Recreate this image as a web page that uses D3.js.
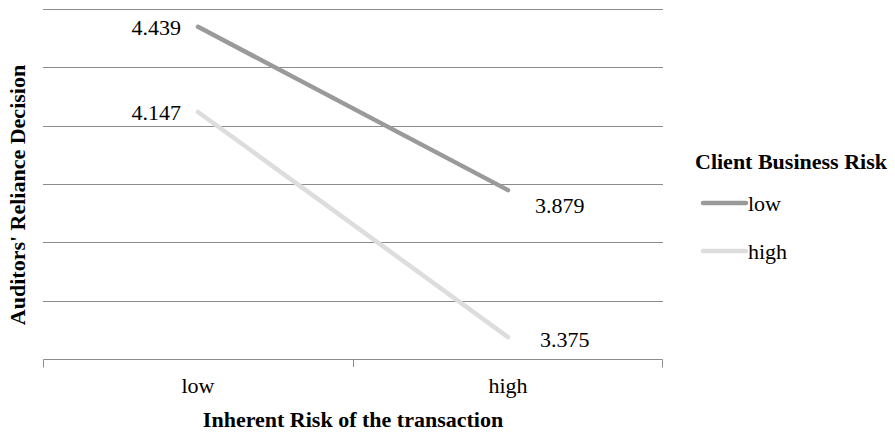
<!DOCTYPE html>
<html>
<head>
<meta charset="utf-8">
<script src="https://cdn.jsdelivr.net/npm/d3@7"></script>
<style>
  html, body { margin: 0; padding: 0; background: #fff; }
  svg { display: block; font-family: "Liberation Serif", "Times New Roman", serif; }
</style>
</head>
<body>
<svg id="chart" width="895" height="433"></svg>
<script>
// Inherent risk of the transaction (x categories)
const categories = ["low", "high"];
// Client business risk series
const seriesNames = ["low", "high"];
const lowClientRisk = [4.439, 3.879];
const highClientRisk = [4.147, 3.375];
// Value axis (ticks are gridlines only, no labels)
const yTicks = [3.3, 3.5, 3.7, 3.9, 4.1, 4.3, 4.5];

const series = [
  { name: seriesNames[0], values: lowClientRisk, color: "#9a9a9a" },
  { name: seriesNames[1], values: highClientRisk, color: "#dddddd" }
];

const svg = d3.select("#chart");
const plot = { left: 43, right: 663, top: 9, bottom: 359 };
const FONT = "Liberation Serif, Times New Roman, serif";

const x = d3.scaleBand().domain(categories).range([plot.left, plot.right]);
const y = d3.scaleLinear().domain([3.3, 4.5]).range([plot.bottom, plot.top]);
const cx = c => x(c) + x.bandwidth() / 2;

// Horizontal gridlines
svg.append("g")
  .selectAll("line")
  .data(yTicks.slice(1))
  .join("line")
  .attr("x1", plot.left).attr("x2", plot.right)
  .attr("y1", d => Math.round(y(d)) + 0.5).attr("y2", d => Math.round(y(d)) + 0.5)
  .attr("stroke", "#8c8c8c").attr("stroke-width", 1);

// Category axis
const xAxis = svg.append("g")
  .attr("transform", `translate(0,${plot.bottom + 0.5})`)
  .call(d3.axisBottom(x).tickSize(0).tickPadding(0));
xAxis.select(".domain").attr("stroke", "#8c8c8c")
  .attr("d", `M${plot.left + 0.5},8V0H${plot.right - 0.5}V8`);
xAxis.selectAll(".tick text")
  .attr("font-family", FONT)
  .attr("font-size", 22).attr("fill", "#000")
  .attr("y", 33).attr("dy", 0);
// Tick marks between categories
svg.append("g")
  .selectAll("line")
  .data(categories.slice(1))
  .join("line")
  .attr("x1", d => Math.round(x(d)) + 0.5).attr("x2", d => Math.round(x(d)) + 0.5)
  .attr("y1", plot.bottom).attr("y2", plot.bottom + 8)
  .attr("stroke", "#8c8c8c");

// Series lines
const line = d3.line()
  .x((d, i) => cx(categories[i]))
  .y(d => y(d));

svg.append("g")
  .selectAll("path")
  .data(series)
  .join("path")
  .attr("d", d => line(d.values))
  .attr("fill", "none")
  .attr("stroke", d => d.color)
  .attr("stroke-width", 4.5)
  .attr("stroke-linecap", "round");

// Value labels: left of the first point, right of the second
const labelOffsets = [
  [{ dx: -17, dy: 1, anchor: "end" }, { dx: 27, dy: 15, anchor: "start" }],
  [{ dx: -17, dy: 0, anchor: "end" }, { dx: 32, dy: 2, anchor: "start" }]
];
series.forEach((s, si) => {
  svg.append("g")
    .selectAll("text")
    .data(s.values)
    .join("text")
    .attr("x", (d, i) => cx(categories[i]) + labelOffsets[si][i].dx)
    .attr("y", (d, i) => y(d) + labelOffsets[si][i].dy)
    .attr("dy", "0.35em")
    .attr("text-anchor", (d, i) => labelOffsets[si][i].anchor)
    .attr("font-size", 22)
    .text(d => d.toFixed(3));
});

// Axis titles
svg.append("text")
  .attr("x", (plot.left + plot.right) / 2)
  .attr("y", 427)
  .attr("text-anchor", "middle")
  .attr("font-weight", "bold")
  .attr("font-size", 22)
  .text("Inherent Risk of the transaction");

svg.append("text")
  .attr("transform", `translate(25,195) rotate(-90)`)
  .attr("text-anchor", "middle")
  .attr("font-weight", "bold")
  .attr("font-size", 22)
  .text("Auditors' Reliance Decision");

// Legend
const legend = svg.append("g");
legend.append("text")
  .attr("x", 695).attr("y", 161).attr("dy", "0.35em")
  .attr("font-weight", "bold").attr("font-size", 22)
  .text("Client Business Risk");
const items = legend.selectAll("g.item")
  .data(series)
  .join("g")
  .attr("class", "item")
  .attr("transform", (d, i) => `translate(0,${203 + i * 48})`);
items.append("line")
  .attr("x1", 703).attr("x2", 746)
  .attr("stroke", d => d.color).attr("stroke-width", 4.5)
  .attr("stroke-linecap", "round");
items.append("text")
  .attr("x", 748).attr("dy", "0.35em")
  .attr("font-size", 22)
  .text(d => d.name);
</script>
</body>
</html>
